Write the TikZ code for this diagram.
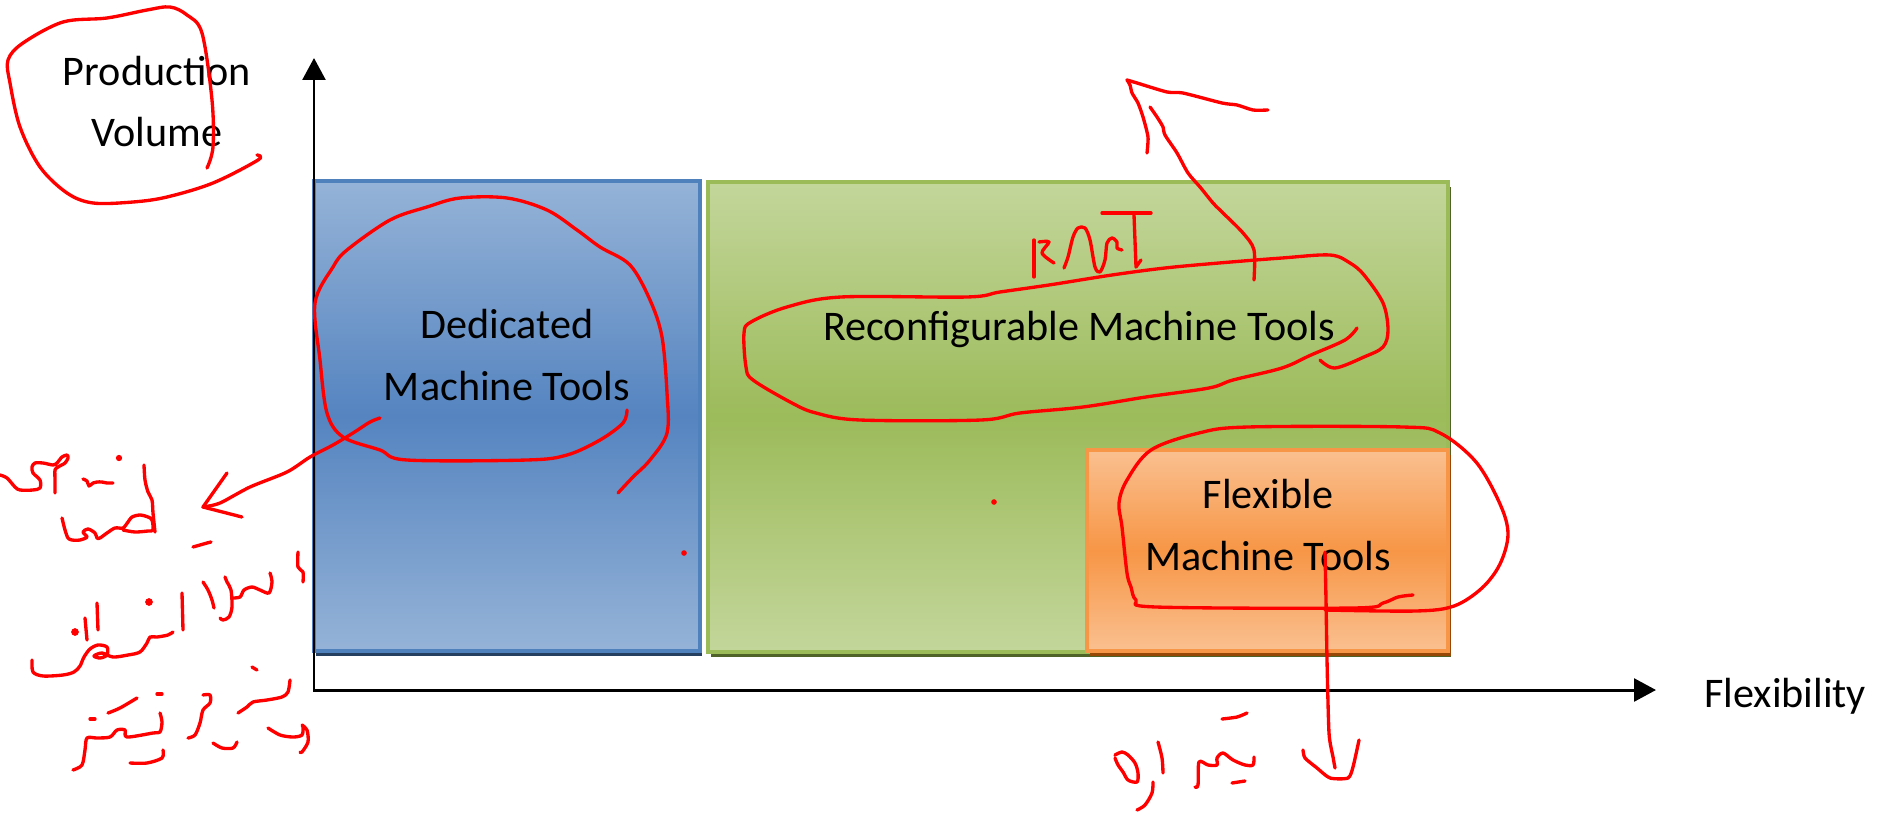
\documentclass[tikz,border=0pt]{standalone}
\usepackage{fontspec}
\setmainfont{Carlito}
\usetikzlibrary{arrows.meta,shadows}
\definecolor{blueD}{HTML}{4F81BD}
\definecolor{blueL}{HTML}{95B3D7}
\definecolor{blueM}{HTML}{5584C0}
\definecolor{blueS}{HTML}{243F60}
\definecolor{greenD}{HTML}{9BBB59}
\definecolor{greenL}{HTML}{C3D69B}
\definecolor{greenM}{HTML}{9CBB5A}
\definecolor{greenS}{HTML}{4F6228}
\definecolor{orangeD}{HTML}{F79646}
\definecolor{orangeL}{HTML}{FAC090}
\definecolor{orangeM}{HTML}{F79646}
\definecolor{orangeS}{HTML}{974806}
\begin{document}
\begin{tikzpicture}[x=0.02cm,y=-0.02cm,
  box/.style={line width=2.2pt, inner sep=0pt, outer sep=0pt},
  lbl/.style={font=\fontsize{24}{35}\selectfont, align=center, anchor=base, inner sep=0pt, text=black},
  axis/.style={line width=1.7pt, line join=miter, {Triangle[width=13pt,length=12.5pt]}-{Triangle[width=13pt,length=12.5pt]}},
  ink/.style={draw=red, line width=1.9pt, line cap=round, line join=round},
  inkdot/.style={fill=red, draw=none}]
\useasboundingbox (0,0) rectangle (1882,814);
\fill[white] (0,0) rectangle (1882,814);

% boxes
\node[box, draw=blueD, top color=blueL, bottom color=blueL, middle color=blueM,
  drop shadow={shadow xshift=1.2pt,shadow yshift=-2.8pt,fill=blueS,opacity=1},
  minimum width=7.72cm, minimum height=9.4cm] (ded) at (507,416) {};
\node[box, draw=greenD, top color=greenL, bottom color=greenL, middle color=greenM,
  drop shadow={shadow xshift=1.7pt,shadow yshift=-2.8pt,fill=greenS,opacity=1},
  minimum width=14.8cm, minimum height=9.4cm] (rmt) at (1078,417) {};
\node[box, draw=orangeD, top color=orangeL, bottom color=orangeL, middle color=orangeM,
  drop shadow={shadow xshift=1.7pt,shadow yshift=-2.8pt,fill=orangeS,opacity=1},
  minimum width=7.22cm, minimum height=4.02cm] (fmt) at (1267.5,550.5) {};

% labels (base = baseline of last line)
\node[lbl] (dedl) at (507,400) {Dedicated\\Machine Tools};
\node[lbl] (rmtl) at (1079,340) {Reconfigurable Machine Tools};
\node[lbl] (fmtl) at (1268,570) {Flexible\\Machine Tools};
\node[lbl] (pv) at (157,147) {Production\\Volume};
\node[lbl, anchor=base west] (flex) at (1704,707) {Flexibility};

% axes
\coordinate (O) at (314,690);
\coordinate (ytip) at (314,58);
\coordinate (xtip) at (1656,690);
\draw[axis] (ytip) -- (O) -- (xtip);

% ---- red annotations ----
% circle around Production Volume
\draw[ink] plot[smooth,tension=0.55] coordinates {(207,168) (213,147) (212,100) (202,33) (187,15) (170,7) (147,10) (107,18) (63,22) (23,43) (8,60) (10,83) (20,127) (40,167) (67,193) (93,203) (133,202) (167,197) (213,183) (258,160) (257,155)};
% circle around Dedicated
\draw[ink] plot[smooth,tension=0.55] coordinates {(627,410) (623,423) (600,440) (567,455) (527,460) (407,460) (380,450) (343,437) (327,413) (320,360) (315,303) (333,267) (347,250) (390,220) (427,207) (460,198) (507,198) (547,210) (577,230) (600,247) (630,265) (650,300) (662,337) (667,393) (667,433) (650,460) (633,477) (618,493)};
% arrow to the left
\draw[ink] plot[smooth,tension=0.5] coordinates {(380,418) (370,422) (353,433) (333,445) (310,457) (287,472) (250,487) (220,503) (203,507)};
\draw[ink] (227,473) -- (203,507) -- (242,517);
% left handwriting, line 1
\draw[ink] plot[smooth,tension=0.5] coordinates {(0,475) (7,478) (15,487) (20,490) (33,490) (40,488) (40,480) (33,473) (32,467) (35,463) (43,463) (53,465) (57,463) (62,457) (67,455) (68,458) (65,463) (58,467) (55,470) (55,480) (55,493)};
\draw[ink] plot[smooth,tension=0.5] coordinates {(83,479) (87,481) (89,486) (93,483) (97,482) (102,482) (107,483) (113,483)};
\fill[inkdot] (119,458) circle[radius=1.8pt];
\draw[ink] plot[smooth,tension=0.5] coordinates {(144,465) (145,480) (148,492) (152,500) (153,513) (155,532)};
\draw[ink] plot[smooth,tension=0.5] coordinates {(62,518) (65,530) (68,538) (72,540) (80,540) (87,537) (83,532) (88,529) (95,533) (97,538) (100,538) (107,533) (115,528) (123,528) (128,522) (132,517) (140,515) (148,517) (152,520) (153,530) (148,531) (135,532) (123,530)};
% line 2
\draw[ink] plot[smooth,tension=0.5] coordinates {(193,547) (200,545) (207,543) (211,542)};
\draw[ink] plot[smooth,tension=0.5] coordinates {(298,552) (298,567) (303,572) (303,582)};
\draw[ink] plot[smooth,tension=0.5] coordinates {(203,582) (208,590) (212,600) (214,608)};
\draw[ink] plot[smooth,tension=0.5] coordinates {(225,577) (227,582) (231,590) (232,607) (229,617) (223,620) (220,618)};
\draw[ink] plot[smooth,tension=0.5] coordinates {(232,598) (240,597) (244,590) (252,587) (260,590) (269,593) (272,582) (270,573)};
\draw[ink] (182,593) -- (183,630);
\fill[inkdot] (149,602) circle[radius=2.2pt];
\draw[ink] plot[smooth,tension=0.5] coordinates {(32,660) (33,672) (43,676) (63,675) (74,672) (80,666) (84,657) (90,649) (98,645) (107,647) (107,655) (100,658) (94,656) (102,653) (113,657) (128,655) (140,652) (147,643) (150,637) (157,637) (168,635) (173,632)};
\draw[ink] (97,603) -- (98,630);
\draw[ink] (85,618) -- (87,640);
\fill[inkdot] (75,632) circle[radius=2.2pt];
% line 3
\draw[ink] (252,667) -- (257,670);
\draw[ink] plot[smooth,tension=0.5] coordinates {(238,713) (247,707) (253,702) (267,700) (282,697) (288,692) (290,680)};
\draw[ink] plot[smooth,tension=0.5] coordinates {(268,728) (280,735) (293,737) (302,735) (303,727) (302,725) (307,730) (308,742) (302,752) (300,752)};
\draw[ink] plot[smooth,tension=0.5] coordinates {(203,695) (210,695) (210,703) (203,710) (200,723) (195,735) (188,738)};
\draw[ink] plot[smooth,tension=0.5] coordinates {(213,743) (222,748) (233,748) (237,742)};
\draw[ink] plot[smooth,tension=0.5] coordinates {(108,713) (120,708) (137,698)};
\draw[ink] (157,694) -- (162,694);
\draw[ink] (90,719) -- (95,719);
\draw[ink] plot[smooth,tension=0.5] coordinates {(73,770) (82,765) (85,750) (87,738) (97,738) (110,737) (117,730) (125,730) (127,737) (153,733) (160,732) (162,722) (160,713)};
\draw[ink] plot[smooth,tension=0.5] coordinates {(130,763) (147,763) (162,758) (163,750)};
% red dots
\fill[inkdot] (684,553) circle[radius=1.6pt];
\fill[inkdot] (994,502) circle[radius=1.6pt];
% circle around Reconfigurable
\draw[ink] plot[smooth,tension=0.55] coordinates {(1357,328) (1345,340) (1311,355) (1282,368) (1233,380) (1209,388) (1146,397) (1083,407) (1020,413) (981,420) (860,420) (816,413) (792,403) (753,380) (746,367) (744,333) (751,322) (787,307) (841,297) (967,297) (1000,292) (1049,285) (1112,275) (1165,268) (1219,263) (1282,258) (1330,255) (1350,263) (1364,275) (1383,303) (1388,330) (1383,347) (1364,357) (1335,368) (1320,360)};
% RMT letters
\draw[ink] (1034,277) -- (1034,240);
\draw[ink] plot[smooth,tension=0.5] coordinates {(1039,242) (1049,242) (1042,253) (1054,263)};
\draw[ink] plot[smooth,tension=0.5] coordinates {(1064,268) (1068,257) (1073,237) (1078,228) (1085,228) (1090,240) (1095,267) (1100,272) (1105,260) (1107,243) (1112,238) (1117,242) (1117,248) (1122,250)};
\draw[ink] (1102,213) -- (1151,213);
\draw[ink] (1134,215) -- (1136,267) -- (1141,260);
% arrow going up
\draw[ink] plot[smooth,tension=0.5] coordinates {(1254,280) (1254,250) (1243,233) (1223,213) (1213,203) (1200,187) (1188,173) (1177,153) (1165,135) (1163,127) (1157,117) (1150,107)};
\draw[ink] plot[smooth,tension=0.4] coordinates {(1147,153) (1148,137) (1143,117) (1138,103) (1132,93) (1130,85) (1127,80)};
\draw[ink] plot[smooth,tension=0.4] coordinates {(1127,80) (1137,83) (1167,92) (1183,93) (1222,103) (1237,105) (1253,110) (1268,110)};
% circle around Flexible
\draw[ink] plot[smooth,tension=0.55] coordinates {(1413,595) (1398,597) (1383,603) (1354,608) (1156,607) (1136,600) (1131,587) (1127,573) (1122,527) (1119,503) (1127,480) (1151,450) (1199,433) (1248,427) (1403,427) (1440,433) (1476,462) (1500,504) (1508,534) (1500,564) (1482,588) (1454,606) (1416,611) (1325,610)};
% line down with arrow
\draw[ink] plot[smooth,tension=0.4] coordinates {(1325,552) (1326,600) (1327,660) (1329,733) (1333,757) (1335,768)};
\draw[ink] plot[smooth,tension=0.4] coordinates {(1303,750) (1305,758) (1317,768) (1330,778) (1348,778) (1353,767) (1359,740)};
% bottom handwriting
\draw[ink] plot[smooth,tension=0.5] coordinates {(1115,755) (1122,752) (1128,755) (1135,763) (1138,773) (1137,782) (1128,780) (1123,772) (1118,765) (1115,758)};
\draw[ink] plot[smooth,tension=0.5] coordinates {(1153,782) (1152,793) (1145,805) (1137,810)};
\draw[ink] plot[smooth,tension=0.5] coordinates {(1158,742) (1162,758) (1163,773)};
\draw[ink] plot[smooth,tension=0.5] coordinates {(1195,787) (1198,785) (1199,762) (1208,765) (1217,765) (1217,758) (1223,753) (1233,760) (1245,765) (1253,765) (1254,757)};
\draw[ink] (1232,783) -- (1245,781);
\draw[ink] plot[smooth,tension=0.5] coordinates {(1222,719) (1237,717) (1247,713)};
\end{tikzpicture}
\end{document}
